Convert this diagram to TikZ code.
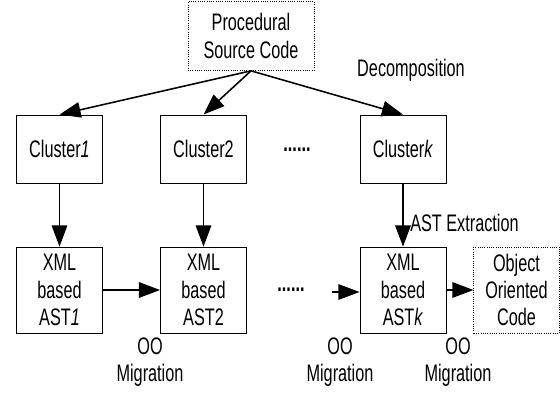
\documentclass[tikz,border=0pt]{standalone}
\usepackage{fontspec}
\setmainfont[FakeStretch=0.68]{Liberation Sans}
\usetikzlibrary{arrows.meta}

\tikzset{
    blk/.style={draw, line width=0.6pt, minimum width=2.15cm, align=center, inner sep=1pt},
    clbox/.style={blk, minimum height=1.7cm},
    xmlbox/.style={blk, minimum height=2.15cm},
    outbox/.style={draw, densely dotted, line width=0.6pt, align=center, inner sep=1pt},
    flow/.style={-{Triangle[length=15pt,width=11pt]}, line width=1.1pt},
    lbl/.style={align=center, inner sep=0pt}
}

\begin{document}
\begin{tikzpicture}[x=0.025cm, y=-0.025cm, font=\fontsize{17}{19.5}\selectfont]
    \useasboundingbox (0,0) rectangle (560,397);
    \node[outbox, minimum width=3.15cm, minimum height=1.72cm] (src) at (251,36) {Procedural\\Source Code};
    \node[clbox] (cl1) at (59.5,149) {Cluster\textit{1}};
    \node[clbox] (cl2) at (203.5,149) {Cluster2};
    \node[clbox] (clk) at (403,149) {Cluster\textit{k}};
    \node[lbl] (dots1) at (297,150) {\textbf{......}};
    \node[xmlbox] (xml1) at (59.5,290) {XML\\based\\AST\textit{1}};
    \node[xmlbox] (xml2) at (203.5,290) {XML\\based\\AST2};
    \node[xmlbox] (xmlk) at (403,290) {XML\\based\\AST\textit{k}};
    \node[outbox, minimum width=2.13cm, minimum height=2.15cm] (ooc) at (516.5,290) {Object\\Oriented\\Code};
    \node[lbl] (dots2) at (291,290) {\textbf{......}};
    \coordinate (inK) at (332,292);
    \node[lbl] (decomp) at (411,70) {Decomposition};
    \node[lbl, anchor=west] (astx) at (410,223) {AST Extraction};
    \node[lbl] (mig1) at (150,362) {OO\\Migration};
    \node[lbl] (mig2) at (340,362) {OO\\Migration};
    \node[lbl] (mig3) at (458,362) {OO\\Migration};
    \draw[flow] (src.south) to (cl1.north);
    \draw[flow] (src.south) to (cl2.north);
    \draw[flow] (src.south) to (clk.north);
    \draw[flow] (cl1) to (xml1);
    \draw[flow] (cl2) to (xml2);
    \draw[flow] (clk) to (xmlk);
    \draw[flow] (xml1) to (xml2);
    \draw[flow] (inK) to (xmlk.west |- inK);
    \draw[flow] (xmlk) to (ooc);
\end{tikzpicture}
\end{document}
